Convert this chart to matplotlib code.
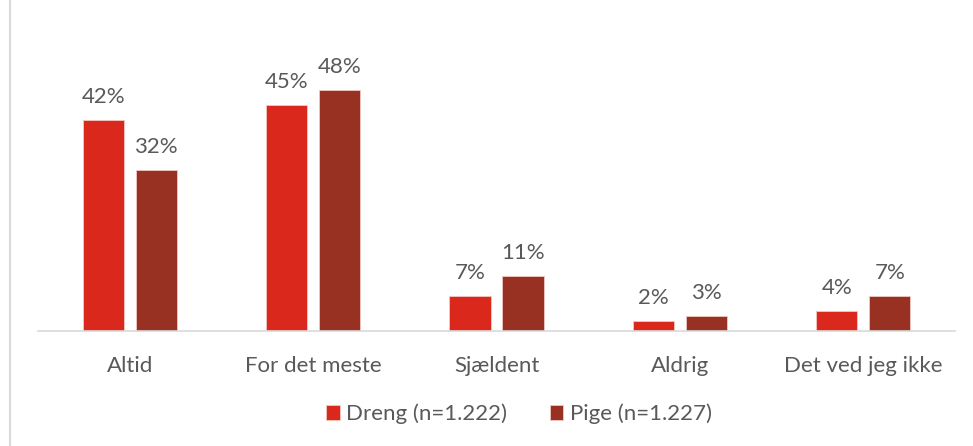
import numpy as np
import matplotlib.pyplot as plt
from matplotlib.lines import Line2D

categories = ['Altid', 'For det meste', 'Sjældent', 'Aldrig', 'Det ved jeg ikke']
dreng = [42, 45, 7, 2, 4]
pige = [32, 48, 11, 3, 7]
series_names = ['Dreng (n=1.222)', 'Pige (n=1.227)']

plt.rcParams['font.family'] = ['Lato', 'DejaVu Sans']
text_col = '#595959'
fs = 16

fig = plt.figure(figsize=(9.73, 4.46), dpi=100)
ax = fig.add_axes([38 / 973, 115 / 446, 917 / 973, 301 / 446])

x = np.arange(len(categories))
w = 0.224
off = 0.1445
b1 = ax.bar(x - off, dreng, w, color='#DA291C', edgecolor='#f4c7c3', linewidth=0.6, label=series_names[0])
b2 = ax.bar(x + off, pige, w, color='#993123', edgecolor='#f0c8c3', linewidth=0.6, label=series_names[1])

for bars, vals in [(b1, dreng), (b2, pige)]:
    for r, v in zip(bars, vals):
        ax.text(r.get_x() + r.get_width() / 2, v + 2.6, f'{v}%', ha='center', va='bottom',
                fontsize=fs, color=text_col)

ax.set_xlim(-0.5, len(categories) - 0.5)
ax.set_ylim(0, 60)
ax.set_xticks(x)
ax.set_xticklabels(categories, fontsize=fs, color=text_col)
ax.tick_params(axis='x', length=0, pad=18)
ax.set_yticks([])
for s in ['top', 'right', 'left']:
    ax.spines[s].set_visible(False)
ax.spines['bottom'].set_color('#d9d9d9')
ax.spines['bottom'].set_linewidth(1.2)

leg = fig.legend(loc='center', bbox_to_anchor=(519 / 973, 1 - 414 / 446), ncol=2, frameon=False,
                 fontsize=fs, handlelength=0.6, handleheight=0.6, handletextpad=0.3,
                 columnspacing=1.9)
for t in leg.get_texts():
    t.set_color(text_col)

# thin frame line on the left edge
fig.add_artist(Line2D([9.5 / 973, 9.5 / 973], [0, 1], color='#d9d9d9', linewidth=1.5))

fig.savefig('out.png', dpi=100)
